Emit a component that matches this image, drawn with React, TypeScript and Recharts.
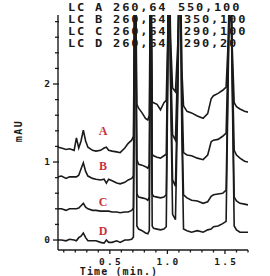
import React from 'react';
import { LineChart, Line, XAxis, YAxis } from 'recharts';

// retention time (min)
const times = [0.05, 0.08, 0.12, 0.15, 0.19, 0.21, 0.23, 0.25, 0.27, 0.29, 0.31, 0.35, 0.38, 0.42, 0.45, 0.47, 0.49, 0.52, 0.56, 0.59, 0.63, 0.66, 0.69, 0.705, 0.72, 0.735, 0.75, 0.78, 0.81, 0.83, 0.843, 0.855, 0.868, 0.88, 0.91, 0.94, 0.97, 0.99, 1.003, 1.015, 1.027, 1.045, 1.07, 1.09, 1.11, 1.125, 1.14, 1.17, 1.21, 1.26, 1.31, 1.35, 1.38, 1.40, 1.44, 1.48, 1.51, 1.53, 1.545, 1.56, 1.58, 1.60, 1.63, 1.67, 1.70];

// absorbance (mAU), traces offset as in the plot
const traceA = [1.19, 1.18, 1.16, 1.17, 1.15, 1.31, 1.18, 1.27, 1.41, 1.27, 1.19, 1.15, 1.14, 1.15, 1.18, 1.19, 1.15, 1.14, 1.13, 1.12, 1.18, 1.24, 1.28, 1.33, 4.0, 1.74, 1.69, 1.63, 1.56, 1.54, 1.60, 4.0, 1.77, 1.76, 1.74, 1.67, 1.76, 1.79, 2.6, 4.0, 2.6, 1.95, 1.90, 2.5, 4.0, 2.2, 1.72, 1.65, 1.63, 1.59, 1.56, 1.62, 1.81, 1.85, 1.88, 1.92, 1.96, 2.6, 4.0, 2.6, 1.76, 1.71, 1.68, 1.65, 1.64];
const traceB = [0.81, 0.82, 0.79, 0.81, 0.81, 0.81, 0.83, 0.91, 0.99, 0.88, 0.82, 0.79, 0.78, 0.77, 0.78, 0.73, 0.78, 0.76, 0.73, 0.72, 0.74, 0.77, 0.79, 0.82, 4.0, 1.03, 0.97, 0.96, 0.94, 0.92, 0.97, 4.0, 1.10, 1.08, 1.06, 1.05, 1.08, 1.10, 2.4, 4.0, 2.4, 1.35, 1.28, 2.3, 4.0, 2.0, 1.12, 1.09, 1.08, 1.05, 1.03, 1.09, 1.26, 1.28, 1.29, 1.33, 1.37, 2.5, 4.0, 2.5, 1.15, 1.09, 1.05, 1.01, 1.00];
const traceC = [0.40, 0.40, 0.38, 0.40, 0.40, 0.40, 0.41, 0.44, 0.47, 0.42, 0.40, 0.38, 0.38, 0.37, 0.37, 0.37, 0.37, 0.36, 0.36, 0.35, 0.36, 0.36, 0.38, 0.41, 4.0, 0.59, 0.55, 0.54, 0.53, 0.51, 0.55, 4.0, 0.59, 0.56, 0.55, 0.54, 0.55, 0.58, 2.2, 4.0, 2.2, 0.77, 0.69, 2.0, 4.0, 1.6, 0.58, 0.54, 0.51, 0.50, 0.47, 0.49, 0.56, 0.58, 0.59, 0.60, 0.64, 2.4, 4.0, 2.4, 0.55, 0.50, 0.47, 0.46, 0.45];
const traceD = [0.00, 0.00, -0.01, 0.01, 0.00, -0.01, 0.03, 0.05, 0.09, 0.03, -0.01, -0.01, -0.01, -0.03, -0.04, 0.00, -0.03, -0.03, -0.01, -0.03, 0.00, 0.00, 0.01, 0.04, 4.0, 0.18, 0.14, 0.12, 0.09, 0.08, 0.12, 4.0, 0.18, 0.15, 0.14, 0.13, 0.14, 0.17, 2.0, 4.0, 2.0, 0.33, 0.26, 1.8, 4.0, 1.4, 0.14, 0.12, 0.10, 0.12, 0.10, 0.13, 0.14, 0.17, 0.18, 0.21, 0.24, 2.3, 4.0, 2.3, 0.18, 0.13, 0.10, 0.10, 0.10];

const xTicks = [0.1, 0.2, 0.3, 0.4, 0.5, 0.6, 0.7, 0.8, 0.9, 1.0, 1.1, 1.2, 1.3, 1.4, 1.5, 1.6, 1.7];
const yTicks = [0, 0.2, 0.4, 0.6, 0.8, 1, 1.2, 1.4, 1.6, 1.8, 2, 2.2, 2.4, 2.6, 2.8];

const headerRows = [
  { lamp: 'LC A 260,64', setting: '550,100', at: 178 },
  { lamp: 'LC B 260,64', setting: '350,100', at: 184 },
  { lamp: 'LC C 260,64', setting: '290,100', at: 184 },
  { lamp: 'LC D 260,64', setting: '290,20', at: 184 },
];
const traceLabels = ['A', 'B', 'C', 'D'];
const labelTops = [124, 159, 195, 224];

const data = times.map((t, i) => ({ t, a: traceA[i], b: traceB[i], c: traceC[i], d: traceD[i] }));

const mono = '"DejaVu Sans Mono", monospace';
const ink = '#1a1a1a';

const XTick = ({ x, y, payload }: any) => {
  const v = payload.value;
  const major = Math.abs(v * 2 - Math.round(v * 2)) < 1e-6;
  return <g>
      <line x1={x} x2={x} y1={y} y2={y + (major ? 4 : 2.5)} stroke={ink} strokeWidth={1.3} />
      {major && <text x={x + 1.2} y={y + 15} textAnchor="middle" fontFamily={mono} fontWeight="bold" fontSize={9.5} letterSpacing={2.3} fill={ink}>
          {v.toFixed(1)}
        </text>}
    </g>;
};

const YTick = ({ x, y, payload }: any) => {
  const v = payload.value;
  const major = Math.abs(v - Math.round(v)) < 1e-6;
  return <g>
      <line x1={x - (major ? 5 : 3)} x2={x + 1} y1={y} y2={y} stroke={ink} strokeWidth={1.3} />
      {major && <text x={x - 8} y={y + 3.4} textAnchor="end" fontFamily={mono} fontWeight="bold" fontSize={9.5} fill={ink}>
          {Math.round(v)}
        </text>}
    </g>;
};

// dot-matrix style header text: narrow font stretched sideways
const stretch: React.CSSProperties = { position: 'absolute', display: 'inline-block', transform: 'scaleX(1.2)', transformOrigin: 'left center' };

export default function App() {
  return <div style={{ position: 'absolute', left: 0, top: 0, width: 270, height: 276, background: '#fff', overflow: 'hidden' }}>
      <LineChart width={270} height={276} data={data} margin={{ top: 15, right: 22, bottom: 0, left: 0 }}>
        <XAxis type="number" dataKey="t" domain={[0.05, 1.7]} ticks={xTicks} interval={0} allowDataOverflow height={26} tickSize={0} tickMargin={0} tickLine={false} tick={XTick} axisLine={{ stroke: ink, strokeWidth: 1.4 }} />
        <YAxis type="number" domain={[-0.128, 2.885]} ticks={yTicks} interval={0} allowDataOverflow width={58} tickSize={0} tickMargin={0} tickLine={false} tick={YTick} axisLine={{ stroke: ink, strokeWidth: 1.4 }} />
        <Line type="linear" dataKey="a" stroke={ink} strokeWidth={1.6} dot={false} isAnimationActive={false} />
        <Line type="linear" dataKey="b" stroke={ink} strokeWidth={1.6} dot={false} isAnimationActive={false} />
        <Line type="linear" dataKey="c" stroke={ink} strokeWidth={1.6} dot={false} isAnimationActive={false} />
        <Line type="linear" dataKey="d" stroke={ink} strokeWidth={1.6} dot={false} isAnimationActive={false} />
      </LineChart>
      {headerRows.map((row, i) => <div key={row.lamp} style={{ position: 'absolute', top: 2 + i * 12, left: 0, fontFamily: mono, fontWeight: 'bold', fontSize: 10, lineHeight: '12px', letterSpacing: 1.5, color: ink, whiteSpace: 'pre' }}>
          <span style={{ ...stretch, left: 68 }}>{row.lamp}</span>
          <span style={{ ...stretch, left: row.at }}>{row.setting}</span>
        </div>)}
      <div style={{ position: 'absolute', left: -1, top: 125, width: 40, height: 12, lineHeight: '12px', textAlign: 'center', fontFamily: mono, fontWeight: 'bold', fontSize: 10, letterSpacing: 1.5, color: ink, transform: 'rotate(-90deg)' }}>
        mAU
      </div>
      <div style={{ position: 'absolute', left: 19, top: 265.5, width: 200, textAlign: 'center', fontFamily: mono, fontWeight: 'bold', fontSize: 10, lineHeight: '12px', letterSpacing: 1.1, color: ink, whiteSpace: 'pre' }}>
        Time (min.)
      </div>
      {traceLabels.map((name, i) => <div key={name} style={{ position: 'absolute', left: 93, top: labelTops[i], width: 20, textAlign: 'center', fontFamily: '"Liberation Serif", serif', fontWeight: 'bold', fontSize: 12, lineHeight: '14px', color: '#c8323c' }}>
          {name}
        </div>)}
    </div>;
}
